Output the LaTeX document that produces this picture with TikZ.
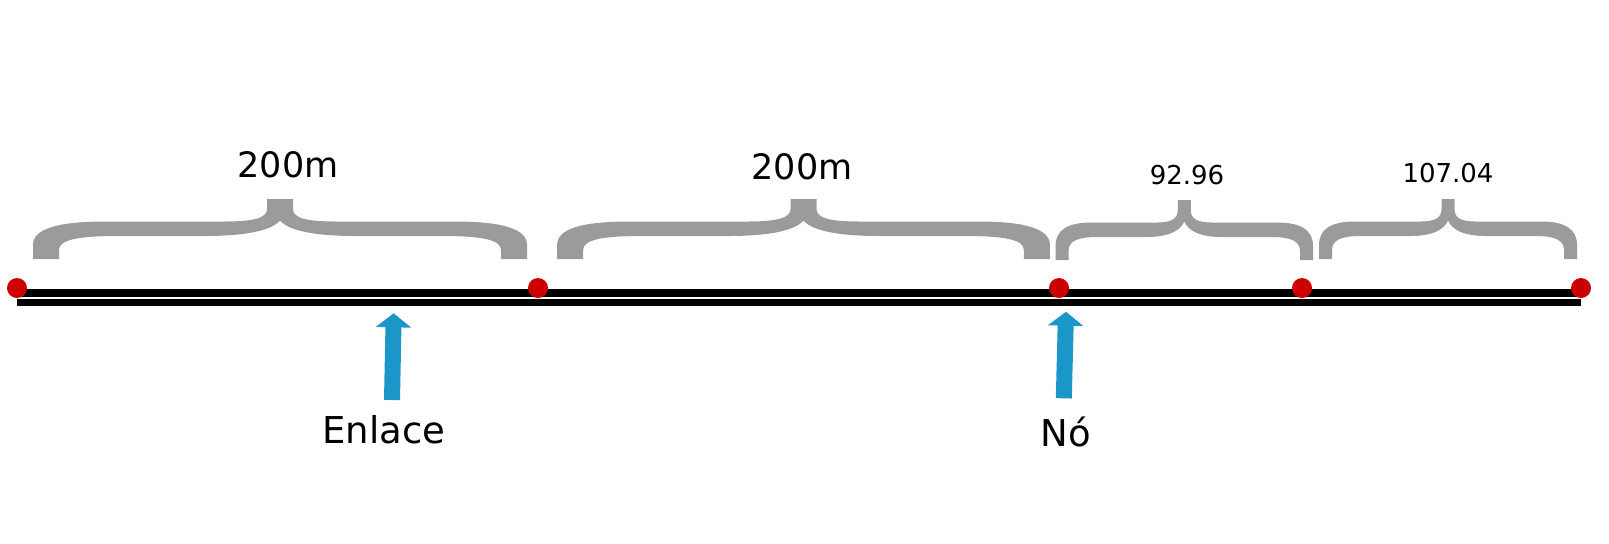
\documentclass[tikz,border=0pt]{standalone}
\usepackage{fontspec}
\setmainfont{DejaVu Sans}
\usetikzlibrary{arrows.meta}
\definecolor{braceGray}{HTML}{9B9B9B}
\definecolor{dotRed}{HTML}{CC0000}
\definecolor{arrowBlue}{HTML}{1A96C8}

\begin{document}
\begin{tikzpicture}[x=0.5pt,y=-0.5pt,
    bigtxt/.style={font=\fontsize{17.5}{20}\selectfont,anchor=base,inner sep=0pt},
    smalltxt/.style={font=\fontsize{13}{15}\selectfont,anchor=base,inner sep=0pt},
    reddot/.style={circle,fill=dotRed,minimum size=10pt,inner sep=0pt},
    stripe/.style={line width=3.8pt},
    bluearrow/.style={arrowBlue,line width=8pt,-{Triangle[width=17.4pt,length=7pt]}},
    bracefill/.style={fill=braceGray}]
  \useasboundingbox (0,0) rectangle (1609,543);
  % points on the line
  \foreach \i/\x in {1/17,2/538,3/1059,4/1302,5/1581}
    {\coordinate (p\i) at (\x,288);}
  \draw[stripe] ([yshift=-2.45pt]p1) -- ([yshift=-2.45pt]p5);
  \draw[stripe] ([yshift=-7.2pt]p1) -- ([yshift=-7.2pt]p5);
  \foreach \i in {1,...,5}
    {\node[reddot] (dot\i) at (p\i) {};}
  % braces
  \foreach \cx/\s/\h/\yb in {280/2/123.5/259,803.5/2/123.2/259,1184.25/1/128.75/260,1448/1/129/259}
  {\begin{scope}[shift={(\cx,\yb)},xscale=\s]
    \fill[bracefill] (-\h,0) -- (-\h,-14) .. controls (-\h,-30) and (-\h+12,-37.5) .. (-\h+36,-37.5)
      -- (-28,-37.5) .. controls (-13,-37.5) and (-6.5,-41) .. (-6.5,-50) -- (-6.5,-60) -- (6.5,-60)
      -- (6.5,-50) .. controls (6.5,-41) and (13,-37.5) .. (28,-37.5) -- (\h-36,-37.5)
      .. controls (\h-12,-37.5) and (\h,-30) .. (\h,-14) -- (\h,0) -- (\h-13,0) -- (\h-13,-9)
      .. controls (\h-13,-19) and (\h-22,-23) .. (\h-42,-23) -- (38,-23)
      .. controls (16,-23) and (4,-29) .. (0,-38.5) .. controls (-4,-29) and (-16,-23) .. (-38,-23)
      -- (-\h+42,-23) .. controls (-\h+22,-23) and (-\h+13,-19) .. (-\h+13,-9) -- (-\h+13,0) -- cycle;
  \end{scope}}
  % lengths
  \node[bigtxt] (len1) at (288,177) {200m};
  \node[bigtxt] (len2) at (802,179) {200m};
  \node[smalltxt] (len3) at (1187,184) {92.96};
  \node[smalltxt] (len4) at (1448,182) {107.04};
  % labels and arrows
  \node[bigtxt,font=\fontsize{18.5}{21}\selectfont] (enlace) at (384,443) {Enlace};
  \node[bigtxt,font=\fontsize{18.5}{21}\selectfont] (no) at (1066,446) {Nó};
  \coordinate (enlaceTail) at (392,400);
  \coordinate (enlaceTip) at (393.7,313.3);
  \coordinate (noTail) at (1063.8,398.3);
  \coordinate (noTip) at (1066,311.7);
  \draw[bluearrow] (enlaceTail) -- (enlaceTip);
  \draw[bluearrow] (noTail) -- (noTip);
\end{tikzpicture}
\end{document}
